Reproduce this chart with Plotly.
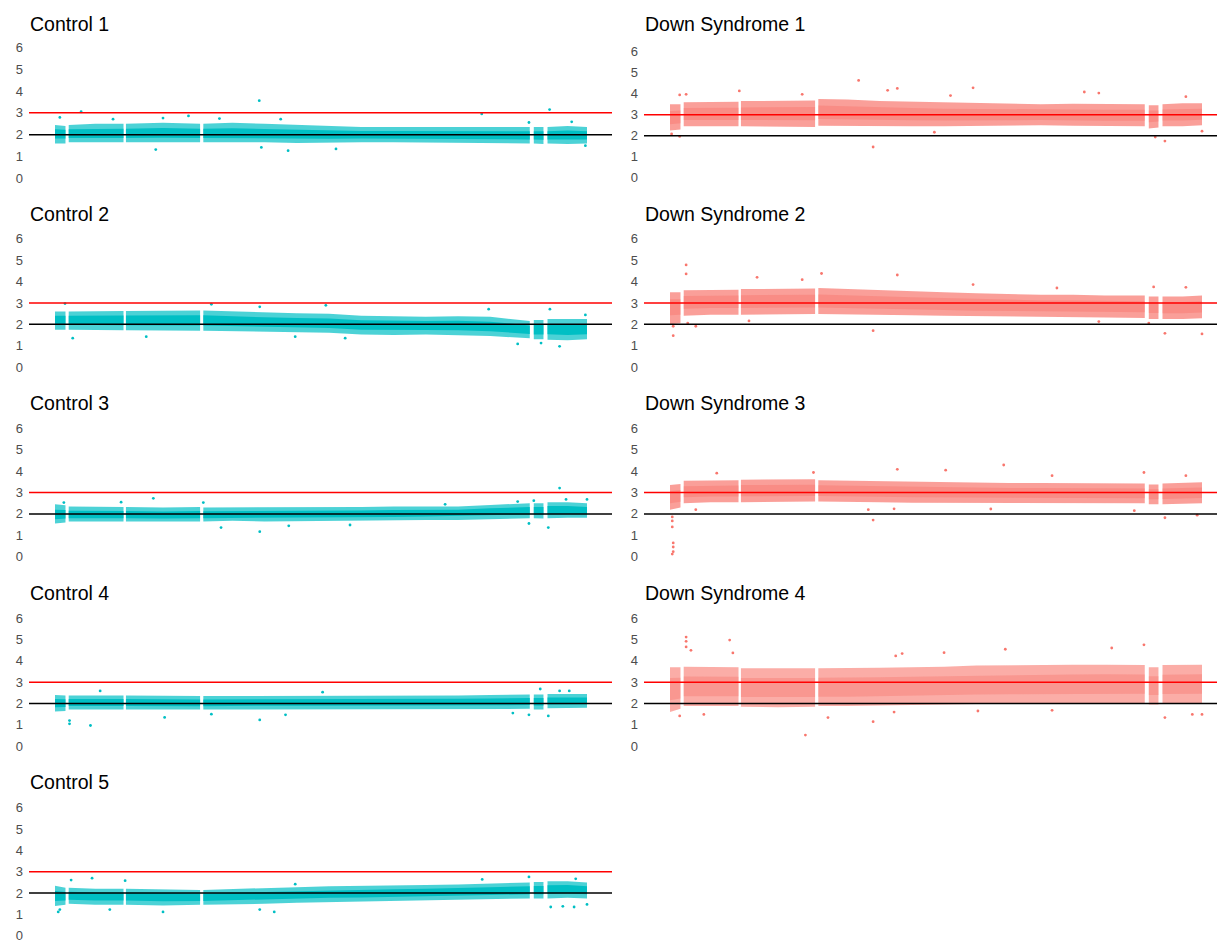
import plotly.graph_objects as go

W, H = 1217, 943

# Chromosome 21 positions (Mb) at which the copy-number band is summarised
positions_mb = [15.0, 15.65, 15.85, 17.5, 19.25, 19.4, 21.7, 24.0, 24.2, 26, 28, 30, 32, 34,
                36, 38, 40, 42, 44.45, 44.7, 45.3, 45.55, 46.8, 48.0]
# covered stretches (no probes between them)
segments_mb = [(15.0, 15.65), (15.85, 19.25), (19.4, 24.0), (24.2, 44.45), (44.7, 45.3), (45.55, 48.0)]

# ---- Controls: upper edge, median, lower edge of the copy-number band ----
control1_hi = [2.45, 2.4, 2.45, 2.5, 2.5, 2.5, 2.55, 2.5, 2.5, 2.55, 2.5, 2.45, 2.4, 2.35, 2.35, 2.35, 2.35, 2.35, 2.35, 2.35, 2.35, 2.35, 2.4, 2.35]
control1_mid = [2.05, 2.05, 2.05, 2.05, 2.05, 2.05, 2.07, 2.05, 2.05, 2.05, 2.03, 2.02, 2.0, 2.0, 2.0, 1.98, 1.98, 1.98, 1.97, 1.97, 1.97, 1.97, 1.98, 1.97]
control1_lo = [1.6, 1.6, 1.65, 1.65, 1.65, 1.65, 1.65, 1.65, 1.65, 1.65, 1.65, 1.62, 1.62, 1.65, 1.65, 1.65, 1.65, 1.62, 1.6, 1.6, 1.58, 1.6, 1.58, 1.6]

control2_hi = [2.6, 2.6, 2.6, 2.62, 2.62, 2.62, 2.65, 2.65, 2.65, 2.6, 2.55, 2.52, 2.5, 2.4, 2.38, 2.35, 2.38, 2.35, 2.15, 2.2, 2.2, 2.25, 2.25, 2.25]
control2_mid = [2.2, 2.2, 2.2, 2.18, 2.2, 2.2, 2.22, 2.2, 2.2, 2.15, 2.1, 2.08, 2.05, 1.97, 1.95, 1.95, 1.95, 1.9, 1.75, 1.75, 1.75, 1.78, 1.75, 1.78]
control2_lo = [1.75, 1.75, 1.75, 1.72, 1.72, 1.72, 1.72, 1.7, 1.7, 1.68, 1.65, 1.62, 1.6, 1.52, 1.5, 1.52, 1.5, 1.45, 1.35, 1.3, 1.3, 1.28, 1.25, 1.3]

control3_hi = [2.45, 2.4, 2.35, 2.35, 2.32, 2.32, 2.3, 2.32, 2.3, 2.3, 2.32, 2.3, 2.3, 2.32, 2.35, 2.35, 2.35, 2.42, 2.5, 2.5, 2.5, 2.55, 2.55, 2.5]
control3_mid = [1.95, 1.97, 1.95, 1.95, 1.95, 1.95, 1.93, 1.95, 1.95, 1.95, 1.97, 1.97, 1.98, 2.0, 2.02, 2.03, 2.05, 2.1, 2.15, 2.15, 2.15, 2.18, 2.18, 2.15]
control3_lo = [1.55, 1.6, 1.65, 1.65, 1.65, 1.65, 1.65, 1.65, 1.65, 1.68, 1.65, 1.65, 1.68, 1.7, 1.7, 1.72, 1.72, 1.75, 1.8, 1.8, 1.78, 1.8, 1.82, 1.82]

control4_hi = [2.4, 2.38, 2.38, 2.38, 2.38, 2.38, 2.35, 2.35, 2.35, 2.35, 2.35, 2.35, 2.35, 2.38, 2.38, 2.38, 2.38, 2.4, 2.42, 2.42, 2.42, 2.45, 2.45, 2.45]
control4_mid = [2.02, 2.02, 2.05, 2.05, 2.05, 2.05, 2.03, 2.03, 2.03, 2.03, 2.04, 2.05, 2.05, 2.06, 2.06, 2.07, 2.07, 2.08, 2.1, 2.1, 2.1, 2.12, 2.12, 2.12]
control4_lo = [1.62, 1.65, 1.72, 1.72, 1.72, 1.72, 1.72, 1.72, 1.72, 1.72, 1.75, 1.75, 1.75, 1.75, 1.75, 1.75, 1.75, 1.75, 1.75, 1.72, 1.72, 1.78, 1.8, 1.8]

control5_hi = [2.35, 2.25, 2.25, 2.2, 2.2, 2.2, 2.18, 2.15, 2.15, 2.18, 2.22, 2.28, 2.32, 2.35, 2.35, 2.38, 2.4, 2.45, 2.5, 2.52, 2.52, 2.55, 2.55, 2.5]
control5_mid = [1.85, 1.85, 1.88, 1.85, 1.85, 1.85, 1.82, 1.82, 1.82, 1.85, 1.88, 1.92, 1.96, 1.98, 2.0, 2.02, 2.05, 2.1, 2.15, 2.15, 2.15, 2.18, 2.2, 2.15]
control5_lo = [1.4, 1.45, 1.5, 1.45, 1.45, 1.45, 1.42, 1.45, 1.45, 1.48, 1.5, 1.55, 1.6, 1.62, 1.65, 1.67, 1.7, 1.72, 1.75, 1.75, 1.75, 1.75, 1.78, 1.75]

# ---- Down syndrome samples ----
ds1_hi = [3.5, 3.5, 3.6, 3.62, 3.62, 3.65, 3.65, 3.68, 3.75, 3.72, 3.65, 3.62, 3.58, 3.55, 3.52, 3.5, 3.52, 3.5, 3.5, 3.45, 3.45, 3.5, 3.55, 3.55]
ds1_mid = [2.85, 2.9, 3.05, 3.05, 3.05, 3.05, 3.05, 3.05, 3.12, 3.1, 3.05, 3.02, 3.0, 3.0, 3.0, 3.0, 3.0, 2.98, 2.97, 2.95, 2.95, 3.0, 3.0, 3.02]
ds1_lo = [2.25, 2.3, 2.45, 2.45, 2.45, 2.45, 2.42, 2.42, 2.48, 2.48, 2.45, 2.45, 2.45, 2.45, 2.48, 2.5, 2.48, 2.45, 2.45, 2.35, 2.4, 2.45, 2.45, 2.5]

ds2_hi = [3.5, 3.5, 3.6, 3.62, 3.62, 3.65, 3.68, 3.68, 3.7, 3.66, 3.62, 3.55, 3.5, 3.45, 3.4, 3.38, 3.38, 3.35, 3.35, 3.3, 3.3, 3.3, 3.3, 3.35]
ds2_mid = [2.85, 2.85, 3.05, 3.08, 3.08, 3.08, 3.1, 3.1, 3.1, 3.08, 3.02, 2.98, 2.95, 2.9, 2.88, 2.86, 2.85, 2.83, 2.82, 2.8, 2.8, 2.78, 2.78, 2.82]
ds2_lo = [2.0, 2.05, 2.4, 2.45, 2.45, 2.45, 2.48, 2.48, 2.48, 2.45, 2.45, 2.42, 2.4, 2.38, 2.35, 2.35, 2.33, 2.32, 2.3, 2.25, 2.25, 2.25, 2.25, 2.28]

ds3_hi = [3.35, 3.4, 3.55, 3.58, 3.58, 3.6, 3.62, 3.62, 3.58, 3.56, 3.55, 3.52, 3.48, 3.45, 3.45, 3.45, 3.45, 3.42, 3.42, 3.38, 3.38, 3.42, 3.45, 3.48]
ds3_mid = [2.8, 2.85, 3.05, 3.08, 3.08, 3.1, 3.1, 3.1, 3.1, 3.08, 3.05, 3.03, 3.0, 3.0, 2.98, 2.98, 2.98, 2.97, 2.96, 2.92, 2.92, 2.95, 2.97, 2.99]
ds3_lo = [2.2, 2.3, 2.5, 2.55, 2.55, 2.55, 2.58, 2.58, 2.58, 2.55, 2.55, 2.52, 2.52, 2.5, 2.5, 2.52, 2.52, 2.5, 2.5, 2.45, 2.45, 2.45, 2.48, 2.5]

ds4_hi = [3.7, 3.7, 3.72, 3.7, 3.7, 3.65, 3.65, 3.65, 3.65, 3.65, 3.68, 3.7, 3.72, 3.78, 3.8, 3.8, 3.82, 3.82, 3.8, 3.7, 3.7, 3.8, 3.82, 3.82]
ds4_mid = [2.7, 2.72, 2.8, 2.8, 2.8, 2.75, 2.75, 2.75, 2.76, 2.76, 2.78, 2.8, 2.83, 2.86, 2.88, 2.9, 2.9, 2.92, 2.92, 2.85, 2.85, 2.9, 2.9, 2.92]
ds4_lo = [1.6, 1.75, 1.88, 1.88, 1.88, 1.85, 1.82, 1.85, 1.88, 1.88, 1.9, 1.92, 1.95, 1.98, 1.98, 1.98, 2.0, 2.0, 2.0, 1.95, 1.95, 1.98, 1.98, 2.0]

# ---- Isolated bins away from the main band (position Mb, copy number) ----
control1_out_x = [16.62, 27.67, 23.28, 41.47, 45.68, 21.25, 29.46, 32.43, 27.8, 47.9, 15.3, 21.7, 25.2, 29.0, 47.05, 44.4, 18.6]
control1_out_y = [3.05, 3.56, 2.86, 2.95, 3.15, 1.32, 1.27, 1.35, 1.42, 1.5, 2.79, 2.76, 2.74, 2.71, 2.59, 2.56, 2.71]
control2_out_x = [15.62, 24.7, 31.8, 45.7, 27.7, 41.9, 46.3, 45.15, 43.7, 20.66, 16.1, 29.9, 33.0, 47.9]
control2_out_y = [2.97, 2.94, 2.89, 2.71, 2.82, 2.71, 0.97, 1.12, 1.08, 1.42, 1.35, 1.42, 1.35, 2.44]
control3_out_x = [46.3, 21.1, 24.2, 27.7, 25.3, 45.6, 44.4, 44.7, 46.7, 48.0, 43.7, 15.55, 19.1, 33.3, 29.5, 39.2]
control3_out_y = [3.21, 2.73, 2.53, 1.17, 1.36, 1.36, 1.55, 2.62, 2.68, 2.68, 2.58, 2.53, 2.55, 1.48, 1.44, 2.45]
control4_out_x = [45.1, 17.8, 31.6, 46.3, 46.9, 15.9, 17.2, 15.9, 27.7, 21.8, 29.3, 45.6, 44.4, 24.7, 43.4]
control4_out_y = [2.68, 2.59, 2.53, 2.59, 2.59, 1.05, 0.97, 1.2, 1.23, 1.35, 1.47, 1.42, 1.47, 1.5, 1.55]
control5_out_x = [17.3, 16.0, 19.35, 44.4, 41.5, 47.3, 29.9, 15.2, 15.3, 21.7, 28.6, 27.7, 45.75, 46.5, 47.2, 48.0, 18.4]
control5_out_y = [2.7, 2.61, 2.58, 2.76, 2.64, 2.67, 2.42, 1.12, 1.23, 1.12, 1.12, 1.23, 1.35, 1.38, 1.35, 1.47, 1.23]

ds1_out_x = [26.7, 29.1, 28.5, 33.8, 19.3, 27.6, 45.7, 45.1, 40.7, 41.6, 15.6, 16.0, 32.4, 47.0, 31.4, 48.0, 15.6, 15.1, 23.2]
ds1_out_y = [4.63, 4.25, 4.16, 4.28, 4.13, 1.47, 1.75, 1.94, 4.08, 4.03, 3.94, 3.97, 3.91, 3.86, 2.17, 2.22, 1.97, 2.09, 3.97]
ds2_out_x = [16.0, 16.0, 29.1, 24.4, 20.4, 23.2, 33.8, 15.2, 15.2, 27.6, 45.7, 48.0, 16.6, 16.1, 47.0, 45.0, 39.0, 19.9, 44.7, 41.6]
ds2_out_y = [4.78, 4.36, 4.31, 4.38, 4.2, 4.09, 3.86, 1.47, 1.91, 1.7, 1.58, 1.55, 1.91, 2.06, 3.73, 3.75, 3.7, 2.16, 2.06, 2.13]
ds3_out_x = [35.7, 29.1, 32.1, 44.4, 17.9, 23.9, 15.14, 15.14, 15.14, 15.2, 15.2, 15.2, 15.14, 27.6, 45.7, 34.9, 47.7, 47.0, 38.7, 27.3, 43.8, 16.6, 28.9]
ds3_out_y = [4.29, 4.09, 4.05, 3.94, 3.91, 3.94, 1.86, 1.67, 1.39, 0.64, 0.45, 0.23, 0.12, 1.71, 1.82, 2.23, 1.94, 3.79, 3.79, 2.2, 2.15, 2.2, 2.24]
ds4_out_x = [16.0, 16.0, 16.0, 16.3, 18.7, 18.9, 35.8, 44.4, 42.4, 32.0, 29.4, 29.0, 23.4, 27.6, 24.8, 15.6, 45.7, 48.0, 47.4, 28.9, 17.1, 34.1, 38.7]
ds4_out_y = [5.11, 4.91, 4.65, 4.49, 4.97, 4.37, 4.54, 4.75, 4.6, 4.38, 4.34, 4.23, 0.52, 1.15, 1.34, 1.42, 1.34, 1.49, 1.49, 1.6, 1.49, 1.65, 1.68]

y_ticks = [0, 1, 2, 3, 4, 5, 6]
normal_copy, trisomy_copy = 2, 3

CONTROL = "#00BFC4"
DOWN = "#F8766D"

samples = [
    # name, column, row, hi, mid, lo, outliers x, outliers y, colour, (outer, core) opacity
    ("Control 1", 0, 0, control1_hi, control1_mid, control1_lo, control1_out_x, control1_out_y, CONTROL, (0.7, 1.0)),
    ("Control 2", 0, 1, control2_hi, control2_mid, control2_lo, control2_out_x, control2_out_y, CONTROL, (0.7, 1.0)),
    ("Control 3", 0, 2, control3_hi, control3_mid, control3_lo, control3_out_x, control3_out_y, CONTROL, (0.7, 1.0)),
    ("Control 4", 0, 3, control4_hi, control4_mid, control4_lo, control4_out_x, control4_out_y, CONTROL, (0.7, 1.0)),
    ("Control 5", 0, 4, control5_hi, control5_mid, control5_lo, control5_out_x, control5_out_y, CONTROL, (0.7, 1.0)),
    ("Down Syndrome 1", 1, 0, ds1_hi, ds1_mid, ds1_lo, ds1_out_x, ds1_out_y, DOWN, (0.7, 0.45)),
    ("Down Syndrome 2", 1, 1, ds2_hi, ds2_mid, ds2_lo, ds2_out_x, ds2_out_y, DOWN, (0.7, 0.45)),
    ("Down Syndrome 3", 1, 2, ds3_hi, ds3_mid, ds3_lo, ds3_out_x, ds3_out_y, DOWN, (0.7, 0.45)),
    ("Down Syndrome 4", 1, 3, ds4_hi, ds4_mid, ds4_lo, ds4_out_x, ds4_out_y, DOWN, (0.6, 0.4)),
]

# panel geometry in pixels
col_plot_px = [(29, 612), (644, 1217)]
col_first_point_px = [55, 670]
mb_per_px = 33.0 / 532.0
ROW_PITCH = 190
zero_px = {(0, 0): 177.8, (1, 0): 177.3}
ppu_px = {(0, 0): 21.9, (1, 0): 21.1}


def rgba(hex_colour, alpha):
    h = hex_colour.lstrip("#")
    r, g, b = int(h[0:2], 16), int(h[2:4], 16), int(h[4:6], 16)
    return f"rgba({r},{g},{b},{alpha})"


def band_polygon(upper, lower):
    xs, ys = [], []
    for s0, s1 in segments_mb:
        idx = [j for j, p in enumerate(positions_mb) if s0 <= p <= s1]
        xs += [positions_mb[j] for j in idx] + [positions_mb[j] for j in reversed(idx)] + [None]
        ys += [upper[j] for j in idx] + [lower[j] for j in reversed(idx)] + [None]
    return xs, ys


fig = go.Figure()
layout_axes = {}
shapes = []
annotations = []

for k, (name, col, row, hi, mid, lo, ox, oy, colour, alphas) in enumerate(samples, start=1):
    xa = "x" if k == 1 else f"x{k}"
    ya = "y" if k == 1 else f"y{k}"
    xkey = "xaxis" if k == 1 else f"xaxis{k}"
    ykey = "yaxis" if k == 1 else f"yaxis{k}"
    outer_alpha, core_alpha = alphas

    # full spread of the bins
    xs, ys = band_polygon(hi, lo)
    fig.add_trace(go.Scatter(x=xs, y=ys, mode="lines", fill="toself",
                             fillcolor=rgba(colour, outer_alpha), line=dict(width=0),
                             hoverinfo="skip", showlegend=False, xaxis=xa, yaxis=ya))
    # central half of the bins
    core_hi = [(m + h) / 2 for m, h in zip(mid, hi)]
    core_lo = [(m + l) / 2 for m, l in zip(mid, lo)]
    xs, ys = band_polygon(core_hi, core_lo)
    fig.add_trace(go.Scatter(x=xs, y=ys, mode="lines", fill="toself",
                             fillcolor=rgba(colour, core_alpha), line=dict(width=0),
                             hoverinfo="skip", showlegend=False, xaxis=xa, yaxis=ya))
    fig.add_trace(go.Scatter(x=ox, y=oy, mode="markers",
                             marker=dict(size=2.8, color=colour, line=dict(width=0)),
                             showlegend=False, xaxis=xa, yaxis=ya))

    # x mapping
    p0, p1 = col_plot_px[col]
    first = col_first_point_px[col]
    xr = [15.0 + (p0 - first) * mb_per_px, 15.0 + (p1 - first) * mb_per_px]
    layout_axes[xkey] = dict(domain=[p0 / W, p1 / W], range=xr, visible=False,
                             showgrid=False, zeroline=False, anchor=ya)

    # y mapping
    z = zero_px.get((col, row), 176.8 + ROW_PITCH * row)
    ppu = ppu_px.get((col, row), 21.4)
    top = z - 6.3 * ppu
    bottom = min(z + 0.3 * ppu, H)
    yr = [(z - bottom) / ppu, (z - top) / ppu]
    layout_axes[ykey] = dict(domain=[1 - bottom / H, 1 - top / H], range=yr,
                             tickvals=y_ticks, ticktext=[str(t) for t in y_ticks],
                             showgrid=False, zeroline=False, showline=False, ticks="",
                             tickfont=dict(size=13, color="#4D4D4D", family="Liberation Sans"),
                             ticklabelstandoff=5, ticklabeloverflow="allow", anchor=xa)

    xdom = f"{xa} domain"
    for level, lc in ((trisomy_copy, "#FF0000"), (normal_copy, "#000000")):
        shapes.append(dict(type="line", xref=xdom, yref=ya, x0=0, x1=1, y0=level, y1=level,
                           line=dict(color=lc, width=1.5), layer="above"))

    title_px = 23 + ROW_PITCH * row
    annotations.append(dict(text=name, xref="paper", yref="paper", x=(p0 - 1) / W,
                            y=1 - title_px / H, xanchor="left", yanchor="middle",
                            showarrow=False,
                            font=dict(size=19.5, color="#000000", family="Liberation Sans")))

fig.update_layout(width=W, height=H, margin=dict(l=0, r=0, t=0, b=0),
                  plot_bgcolor="white", paper_bgcolor="white",
                  shapes=shapes, annotations=annotations, showlegend=False,
                  **layout_axes)

fig.write_html("out.html")
